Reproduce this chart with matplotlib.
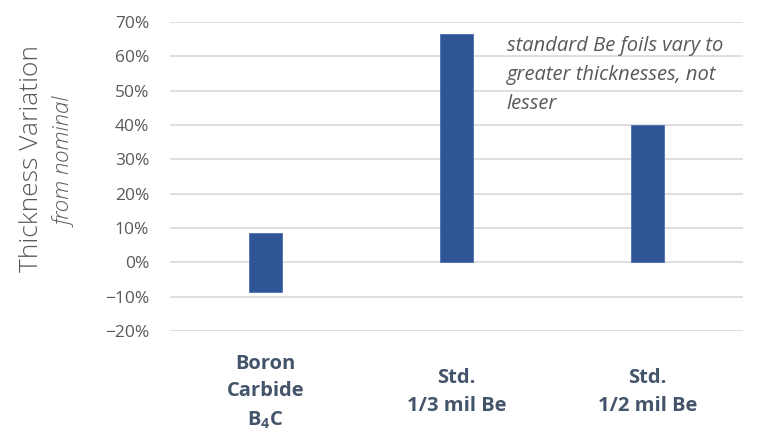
import matplotlib
matplotlib.use("Agg")
import matplotlib.pyplot as plt
from matplotlib.ticker import PercentFormatter
import matplotlib.transforms as mtransforms

categories = ["Boron\nCarbide\nB$_4$C", "Std.\n1/3 mil Be", "Std.\n1/2 mil Be"]
lower = [-8.6, 0.0, 0.0]
upper = [8.6, 66.5, 40.0]
yticks = [-20, -10, 0, 10, 20, 30, 40, 50, 60, 70]
note = "standard Be foils vary to\ngreater thicknesses, not\nlesser"

plt.rcParams['font.family'] = ['Open Sans', 'DejaVu Sans']
plt.rcParams['mathtext.default'] = 'regular'

W, H = 772, 444
fig = plt.figure(figsize=(W/100, H/100), dpi=100)
ax = fig.add_axes([170/W, 1-331/H, (743-170)/W, (331-22)/H])

x = list(range(len(categories)))
heights = [u - l for u, l in zip(upper, lower)]
ax.bar(x, heights, bottom=lower, width=0.168, color="#2F5597", edgecolor="#4A6FB0", linewidth=0.6, zorder=3)

ax.set_xlim(-0.5, len(categories) - 0.5)
ax.set_ylim(-20, 70)
ax.set_yticks(yticks)
ax.yaxis.set_major_formatter(PercentFormatter(decimals=0))
ax.grid(axis='y', color="#D9D9D9", linewidth=1.2, zorder=0)
for s in ax.spines.values():
    s.set_visible(False)
ax.tick_params(axis='y', length=0, pad=15, labelsize=12.5, labelcolor="#595959")
ax.tick_params(axis='x', length=0, labelbottom=False)

trans = mtransforms.blended_transform_factory(ax.transData, ax.transAxes)
for xi, lab in zip(x, categories):
    ax.text(xi, -0.198, lab, transform=trans, ha='center', va='center',
            fontsize=14.5, fontweight='bold', color="#44546A", linespacing=1.5)

ax.text(0.588, 0.955, note, transform=ax.transAxes, ha='left', va='top',
        fontsize=14.5, style='italic', color="#595959", linespacing=1.6)

fig.text(32/W, 1-158/H, "Thickness Variation", rotation=90, ha='center', va='center',
         fontsize=19, color="#595959", fontweight='light')
fig.text(66/W, 1-162/H, "from nominal", rotation=90, ha='center', va='center',
         fontsize=16, style='italic', color="#595959", fontweight='light')

fig.savefig("out.png", dpi=100)
